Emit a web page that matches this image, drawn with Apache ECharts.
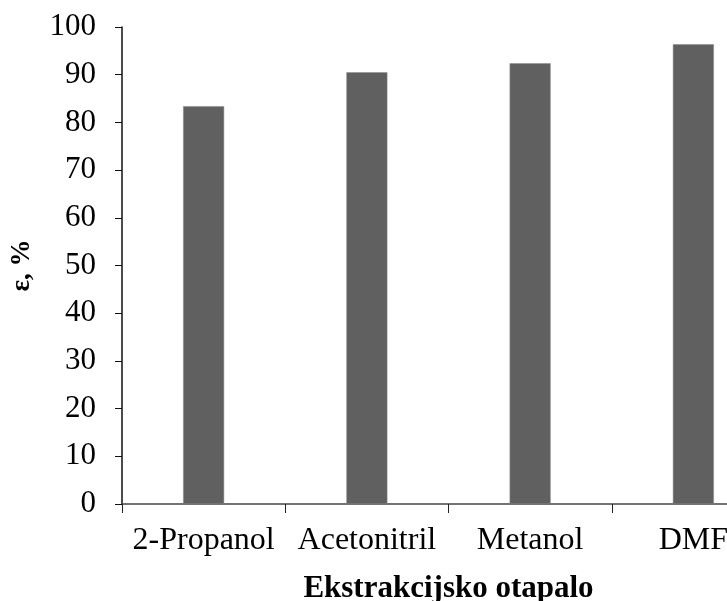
<!DOCTYPE html>
<html>
<head>
<meta charset="utf-8">
<script src="https://cdn.jsdelivr.net/npm/echarts@6/dist/echarts.min.js"></script>
<style>
html,body{margin:0;padding:0;background:#fff;}
#chart{width:727px;height:601px;}
</style>
</head>
<body>
<div id="chart"></div>
<script>
const categories = ['2-Propanol', 'Acetonitril', 'Metanol', 'DMF'];
const values = [83.4, 90.5, 92.4, 96.4];
const yTicks = { min: 0, max: 100, interval: 10 };
const xTitle = 'Ekstrakcijsko otapalo';
const yTitle = 'ε, %';

const FONT = '"Liberation Serif", "Times New Roman", serif';
const chart = echarts.init(document.getElementById('chart'), null, { renderer: 'canvas' });
chart.setOption({
  backgroundColor: '#ffffff',
  animation: false,
  grid: { left: 122, top: 27, width: 653, height: 477, containLabel: false, outerBoundsMode: 'none' },
  xAxis: {
    type: 'category',
    data: categories,
    boundaryGap: true,
    name: xTitle,
    nameLocation: 'middle',
    nameGap: 69,
    nameTextStyle: { fontFamily: FONT, fontSize: 31, fontWeight: 'bold', color: '#000' },
    axisLine: { lineStyle: { color: '#444', width: 1.5 } },
    axisTick: { show: true, alignWithLabel: false, length: 9, lineStyle: { color: '#222' } },
    axisLabel: { fontFamily: FONT, fontSize: 32, color: '#000', margin: 21, interval: 0 },
    splitLine: { show: false }
  },
  yAxis: {
    type: 'value',
    min: yTicks.min,
    max: yTicks.max,
    interval: yTicks.interval,
    name: yTitle,
    nameLocation: 'middle',
    nameGap: 86,
    nameRotate: 90,
    nameTextStyle: { fontFamily: FONT, fontSize: 27, fontWeight: 'bold', color: '#000' },
    axisLine: { show: true, lineStyle: { color: '#111', width: 1.5 } },
    axisTick: { show: true, inside: false, length: 7, lineStyle: { color: '#111' } },
    axisLabel: { fontFamily: FONT, fontSize: 31, color: '#000', margin: 26 },
    splitLine: { show: false }
  },
  series: [{
    type: 'bar',
    data: values,
    barWidth: 41,
    itemStyle: { color: '#606060', borderColor: '#8a8a8a', borderWidth: 0.5 }
  }]
});
</script>
</body>
</html>
